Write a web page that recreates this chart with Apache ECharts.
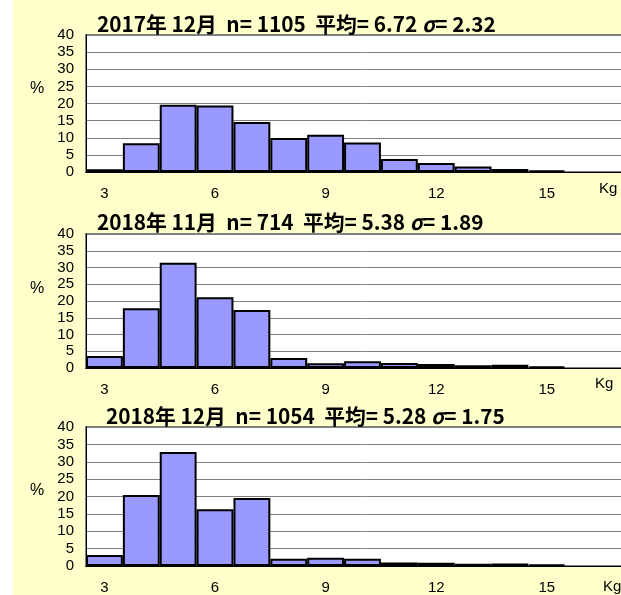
<!DOCTYPE html>
<html><head><meta charset="utf-8">
<script src="https://cdn.jsdelivr.net/npm/echarts@6/dist/echarts.min.js"></script>
<style>html,body{margin:0;padding:0;background:#fff;overflow:hidden;width:621px;height:595px}#c{width:660px;height:595px}</style>
</head><body><div id="c"></div>
<script>
// weight classes (kg)
const categories = ['3','4','5','6','7','8','9','10','11','12','13','14','15','16','17'];
const yTicks = [0, 5, 10, 15, 20, 25, 30, 35, 40];
// panel titles: [before sigma, after sigma]
const titleParts = [
  ['2017年 12月  n= 1105  平均= 6.72 ', '= 2.32'],
  ['2018年 11月  n= 714  平均= 5.38 ', '= 1.89'],
  ['2018年 12月  n= 1054  平均= 5.28 ', '= 1.75']
];
// percentage per weight class
const dec2017 = [0.8, 8.4, 19.6, 19.4, 14.6, 9.9, 10.9, 8.6, 3.8, 2.6, 1.6, 0.9, 0.5, null, null];
const nov2018 = [3.6, 17.8, 31.4, 21.1, 17.3, 3.0, 1.4, 2.0, 1.5, 1.2, 0.8, 1.0, 0.5, null, null];
const dec2018 = [3.2, 20.4, 32.8, 16.3, 19.6, 2.1, 2.35, 2.1, 1.0, 0.9, 0.65, 0.75, 0.4, null, null];
const seriesData = [dec2017, nov2018, dec2018];

const layout = [
  {top: 35, height: 137, titleY: 28, titleX: 97, pctY: 90, kgY: 190, kgX: 599},
  {top: 234, height: 134, titleY: 226, titleX: 97, pctY: 290, kgY: 385, kgX: 595},
  {top: 427, height: 141, titleY: 420, titleX: 106, pctY: 492, kgY: 588, kgX: 603}
];
const numFont = '"Liberation Sans Narrow", "Liberation Sans", Arial, sans-serif';
const cjkFont = '"Noto Sans CJK JP", "Liberation Sans", sans-serif';

const chart = echarts.init(document.getElementById('c'));
const grids = [], xAxes = [], yAxes = [], series = [], graphics = [];
graphics.push({type: 'rect', shape: {x: 13, y: 0, width: 660, height: 595}, style: {fill: '#FFFFCC'}, z: -10, silent: true});
layout.forEach((L, i) => {
  grids.push({left: 86, top: L.top, width: 553, height: L.height, show: true, backgroundColor: '#ffffff', borderColor: '#808080', borderWidth: 2});
  xAxes.push({
    type: 'category', gridIndex: i, data: categories, boundaryGap: true,
    axisTick: {show: false},
    axisLine: {lineStyle: {color: '#000', width: 1}},
    axisLabel: {interval: 2, color: '#000', fontSize: 15, fontFamily: numFont, margin: 14}
  });
  yAxes.push({
    type: 'value', gridIndex: i, min: yTicks[0], max: yTicks[yTicks.length - 1], interval: 5,
    axisLine: {show: true, lineStyle: {color: '#000', width: 1}},
    axisTick: {show: false},
    axisLabel: {color: '#000', fontSize: 15, fontFamily: numFont, margin: 12},
    splitLine: {lineStyle: {color: '#808080', width: 1}}
  });
  series.push({
    type: 'bar', xAxisIndex: i, yAxisIndex: i, data: seriesData[i],
    barCategoryGap: '0%', barGap: '0%',
    itemStyle: {color: '#9999FF', borderColor: '#000', borderWidth: 2},
    silent: true, animation: false
  });
  graphics.push({
    type: 'text', left: L.titleX, top: L.titleY - 14, scaleX: 0.99,
    style: {
      text: '{a|' + titleParts[i][0] + '}{s|σ}{a|' + titleParts[i][1] + '}',
      rich: {
        a: {fontSize: 21, fontWeight: 'bold', fontFamily: cjkFont, fill: '#000'},
        s: {fontSize: 21, fontWeight: 'bold', fontStyle: 'italic', fontFamily: cjkFont, fill: '#000'}
      }
    }
  });
  graphics.push({type: 'text', left: 30, top: L.pctY - 9, style: {text: '%', fontSize: 16, fontFamily: numFont, fill: '#000'}});
  graphics.push({type: 'text', left: L.kgX, top: L.kgY - 9, style: {text: 'Kg', fontSize: 15, fontFamily: numFont, fill: '#000'}});
});
chart.setOption({
  animation: false,
  backgroundColor: '#ffffff',
  grid: grids, xAxis: xAxes, yAxis: yAxes, series: series, graphic: graphics
});
</script></body></html>
